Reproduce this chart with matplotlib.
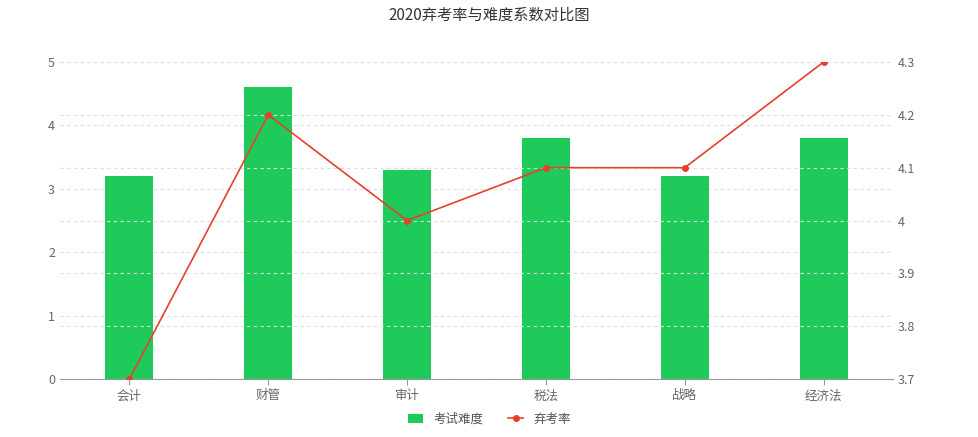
import numpy as np
import matplotlib.pyplot as plt

plt.rcParams['font.family'] = ['Noto Sans CJK SC', 'DejaVu Sans']

categories = ['会计', '财管', '审计', '税法', '战略', '经济法']
difficulty = [3.2, 4.6, 3.3, 3.8, 3.2, 3.8]
abandon_rate = [3.7, 4.2, 4.0, 4.1, 4.1, 4.3]

fig = plt.figure(figsize=(9.79, 4.37), dpi=100)
ax = fig.add_axes([60 / 979, 1 - 379 / 437, 833 / 979, 317 / 437])
ax2 = ax.twinx()

x = np.arange(len(categories))
bars = ax.bar(x, difficulty, width=0.345, color='#1ecb5a', label='考试难度', zorder=2)
line, = ax2.plot(x, abandon_rate, color='#e5412d', lw=1.2, marker='o', ms=4,
                 label='弃考率', zorder=3)

ax.set_xlim(-0.5, len(categories) - 0.5)
ax.set_ylim(0, 5)
ax2.set_ylim(3.7, 4.3)
ax.set_yticks(range(6))
ax2.set_yticks(np.round(np.arange(3.7, 4.31, 0.1), 1))
ax2.set_yticklabels(['3.7', '3.8', '3.9', '4', '4.1', '4.2', '4.3'])
ax.set_xticks(x)
ax.set_xticklabels(categories)

for a in (ax, ax2):
    for s in a.spines.values():
        s.set_visible(False)
    a.tick_params(length=0, colors='#666666', labelsize=9)
ax.spines['bottom'].set_visible(True)
ax.spines['bottom'].set_color('#999999')
ax.tick_params(axis='x', length=4, color='#999999')
ax.grid(axis='y', ls=(0, (3, 3)), color='#dddddd', lw=0.8, zorder=0)
ax2.grid(axis='y', ls=(0, (3, 3)), color='#dddddd', lw=0.8, zorder=0)

fig.suptitle('2020弃考率与难度系数对比图', y=0.985, fontsize=11, color='#333333')
fig.legend([bars, line], ['考试难度', '弃考率'], loc='lower center', ncol=2,
           frameon=False, fontsize=9, bbox_to_anchor=(0.5, 0.0),
           handlelength=1.2, labelcolor='#555555')

fig.savefig('out.png', dpi=100)
